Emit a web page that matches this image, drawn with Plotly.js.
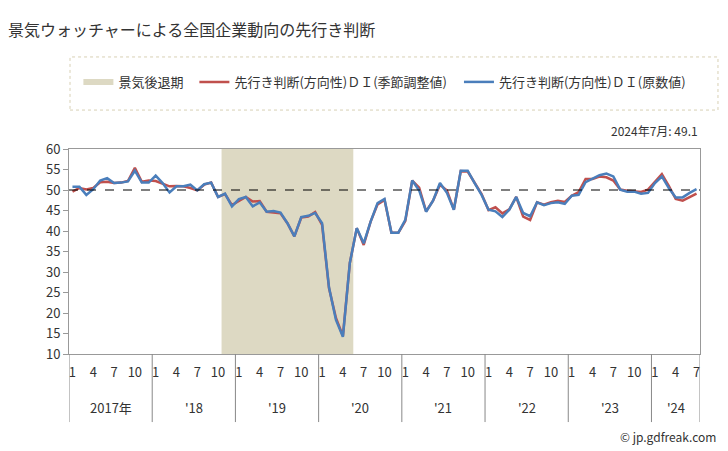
<!DOCTYPE html>
<html>
<head>
<meta charset="utf-8">
<script src="https://cdn.plot.ly/plotly-3.0.1.min.js"></script>
<style>html,body{margin:0;padding:0;background:#fff;}#chart{width:728px;height:451px;}</style>
</head>
<body>
<div id="chart"></div>
<script>
// ---- data (Jan 2017 .. Jul 2024, monthly) ----
const startYear = 2017;
const monthCount = 91;
const yearLabels = ['2017年', "'18", "'19", "'20", "'21", "'22", "'23", "'24"];
const monthTickNumbers = [1, 4, 7, 10];
const recessionStart = '2018-11';
const recessionEnd = '2020-05';
const seriesSA = [
  49.6, 50.5, 50.1, 50.5, 51.9, 52.0, 51.7, 51.8, 52.2, 55.4, 52.0, 52.3,
  52.2, 51.5, 50.9, 51.0, 50.9, 50.5, 49.9, 51.3, 51.8, 48.3, 49.0, 46.3,
  47.3, 48.3, 47.2, 47.3, 44.7, 44.5, 44.3, 41.9, 38.7, 43.3, 43.5, 44.6,
  41.5, 26.0, 18.8, 14.4, 32.2, 40.7, 36.6, 42.3, 46.5, 47.6, 39.6, 39.6,
  42.4, 52.3, 50.6, 44.8, 47.4, 51.3, 49.9, 45.2, 54.6, 54.5, 51.9, 49.0,
  45.1, 45.8, 44.3, 45.3, 48.3, 43.5, 42.7, 47.0, 46.4, 47.0, 47.4, 47.1,
  48.6, 49.5, 52.7, 52.7, 53.3, 53.1, 52.3, 50.1, 49.8, 49.6, 49.5, 50.1,
  51.9, 53.9, 51.0, 47.8, 47.4, 48.3, 49.1
];
const seriesRaw = [
  50.8, 50.8, 48.8, 50.2, 52.3, 52.9, 51.7, 51.8, 52.1, 54.7, 51.8, 51.8,
  53.5, 51.7, 49.4, 50.9, 50.9, 51.3, 49.9, 51.4, 51.8, 48.3, 49.1, 46.0,
  47.8, 48.3, 46.0, 47.0, 44.7, 44.9, 44.5, 41.9, 38.7, 43.4, 43.7, 44.4,
  41.9, 26.2, 18.3, 14.2, 32.2, 40.7, 37.0, 42.3, 46.8, 47.8, 39.6, 39.6,
  42.7, 52.3, 49.9, 44.7, 47.4, 51.7, 49.3, 45.2, 54.7, 54.7, 51.7, 48.8,
  45.2, 44.8, 43.4, 45.2, 48.3, 44.4, 43.6, 47.0, 46.3, 46.8, 47.0, 46.6,
  48.6, 48.8, 51.9, 52.7, 53.6, 54.0, 53.3, 50.1, 49.6, 49.6, 49.1, 49.3,
  51.7, 53.3, 50.5, 48.2, 48.2, 49.3, 50.2
];
const seriesNames = ['景気後退期', '先行き判断(方向性)ＤＩ(季節調整値)', '先行き判断(方向性)ＤＩ(原数値)'];
const titleText = '景気ウォッチャーによる全国企業動向の先行き判断';
const creditText = '© jp.gdfreak.com';

// ---- derived ----
const idx = [];
const ym = [];
for (let i = 0; i < monthCount; i++) {
  idx.push(i);
  const y = startYear + Math.floor(i / 12), m = (i % 12) + 1;
  ym.push(y + '-' + String(m).padStart(2, '0'));
}
const tickvals = [], ticktext = [];
idx.forEach(i => { const m = (i % 12) + 1; if (monthTickNumbers.includes(m)) { tickvals.push(i); ticktext.push(String(m)); } });
const rs = ym.indexOf(recessionStart) - 0.5, re = ym.indexOf(recessionEnd) + 0.5;
const YMIN = 10, YMAX = 60;

const font = "'Noto Sans CJK JP', 'Noto Sans', sans-serif";
const traces = [
  { x: [rs, re, re, rs, rs], y: [YMIN, YMIN, YMAX, YMAX, YMIN], type: 'scatter', mode: 'none', fill: 'toself',
    fillcolor: '#ddd9c3', name: seriesNames[0], hoverinfo: 'skip', legend: 'legend' },
  { x: idx, y: seriesSA, type: 'scatter', mode: 'lines', name: seriesNames[1], line: { color: '#c0504d', width: 2.5 }, legend: 'legend2' },
  { x: idx, y: seriesRaw, type: 'scatter', mode: 'lines', name: seriesNames[2], line: { color: '#4a7ebb', width: 2.5 }, legend: 'legend3' }
];

const shapes = [
  { type: 'line', xref: 'paper', x0: 0, x1: 1, yref: 'y', y0: 50, y1: 50, line: { color: '#000', width: 1.2, dash: 'dash' } },
  { type: 'rect', xref: 'paper', yref: 'paper', x0: 0.0016, x1: 1.0285, y0: 1.19, y1: 1.449, line: { color: '#d8d0b4', width: 1, dash: 'dot' } }
];
const nYears = Math.ceil(monthCount / 12);
for (let k = 0; k <= nYears; k++) {
  const xb = Math.min(12 * k, monthCount) - 0.5;
  shapes.push({ type: 'line', xref: 'x', yref: 'paper', x0: xb, x1: xb, y0: 0, y1: -0.332, line: { color: '#888', width: 1 } });
}
const annotations = [];
yearLabels.forEach((lab, k) => {
  const a = 12 * k, b = Math.min(12 * k + 11, monthCount - 1);
  annotations.push({ x: (a + b) / 2, xref: 'x', y: -0.259, yref: 'paper', text: lab, showarrow: false, font: { size: 13, color: '#333', family: font }, yanchor: 'middle' });
});
const lastI = monthCount - 1;
const lastY = startYear + Math.floor(lastI / 12), lastM = (lastI % 12) + 1;
annotations.push({ x: 1, xref: 'paper', xanchor: 'right', y: 1.088, yref: 'paper', yanchor: 'middle', showarrow: false,
  text: lastY + '年' + lastM + '月: ' + seriesSA[lastI].toFixed(1), font: { size: 12, color: '#333', family: font } });
annotations.push({ x: 1.0285, xref: 'paper', xanchor: 'right', y: -0.40, yref: 'paper', yanchor: 'middle', showarrow: false,
  text: creditText, font: { size: 12, color: '#333', family: font } });

const legendBase = { orientation: 'h', xanchor: 'left', y: 1.327, yanchor: 'middle', font: { size: 13, color: '#333', family: font },
  bgcolor: 'rgba(0,0,0,0)', itemwidth: 30 };
const layout = {
  width: 728, height: 451,
  margin: { l: 69, r: 28, t: 149, b: 97 },
  paper_bgcolor: '#fff', plot_bgcolor: '#fff',
  font: { family: font, size: 13, color: '#333' },
  title: { text: titleText, x: 8 / 728, xref: 'container', xanchor: 'left', y: 1 - 30 / 451, yref: 'container', yanchor: 'middle',
    font: { size: 16, color: '#333', family: font } },
  showlegend: true,
  legend: Object.assign({}, legendBase, { x: 0.0149 }),
  legend2: Object.assign({}, legendBase, { x: 0.1987 }),
  legend3: Object.assign({}, legendBase, { x: 0.618 }),
  xaxis: { range: [-0.5, monthCount - 0.5], tickmode: 'array', tickvals: tickvals, ticktext: ticktext, ticks: '',
    showgrid: false, zeroline: false, showline: true, linecolor: '#999', linewidth: 1, mirror: true,
    tickfont: { size: 13, color: '#333', family: font }, ticklabelstandoff: 6, fixedrange: true },
  yaxis: { range: [YMIN, YMAX], dtick: 5, tick0: 10, ticks: 'outside', ticklen: 5, tickcolor: '#999',
    showgrid: false, zeroline: false, showline: true, linecolor: '#999', linewidth: 1, mirror: true,
    tickfont: { size: 13, color: '#333', family: font }, fixedrange: true },
  shapes: shapes,
  annotations: annotations
};
Plotly.newPlot('chart', traces, layout, { displayModeBar: false, staticPlot: true });
</script>
</body>
</html>
